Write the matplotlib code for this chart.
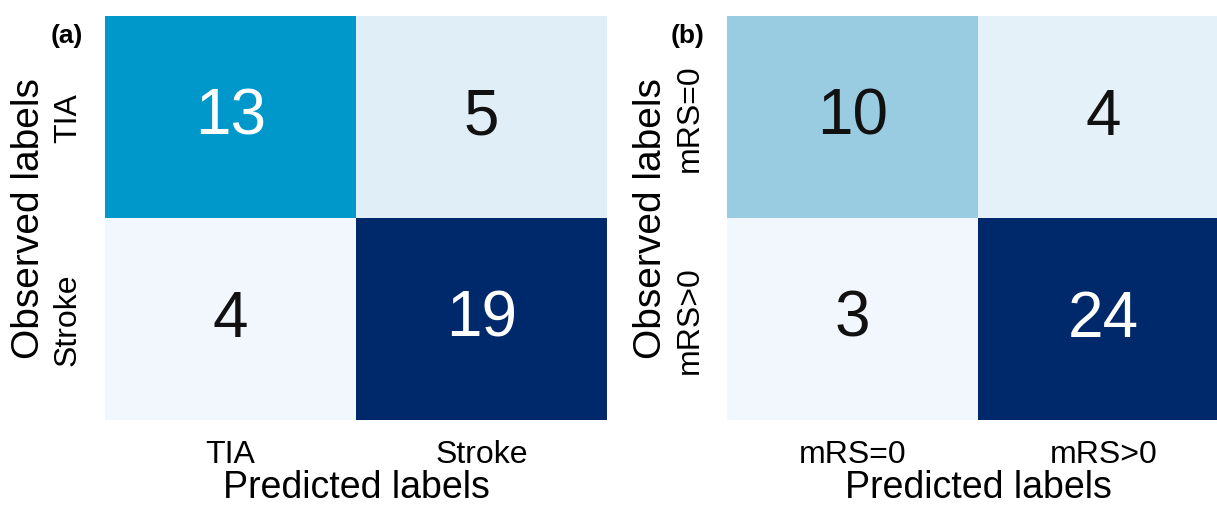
import matplotlib
matplotlib.use('Agg')
import matplotlib.pyplot as plt
import numpy as np
from matplotlib.colors import LinearSegmentedColormap

plt.rcParams['font.family'] = ['Liberation Sans', 'DejaVu Sans']

# Confusion matrices (rows: observed, cols: predicted)
labels_a = ['TIA', 'Stroke']
counts_a = [[13, 5],
            [4, 19]]

labels_b = ['mRS=0', 'mRS>0']
counts_b = [[10, 4],
            [3, 24]]

panel_tags = ['(a)', '(b)']

# light sky -> cyan blue -> navy
cmap = LinearSegmentedColormap.from_list(
    'cm_blues',
    [(0.0, '#f1f7fd'), (0.33, '#9ccde2'), (0.6, '#0098ca'), (1.0, '#00296b')])

W, H = 1217, 506
fig = plt.figure(figsize=(W / 100, H / 100), dpi=100)


def draw_cm(left_px, counts, labels, tag):
    ax = fig.add_axes([left_px / W, 85 / H, 502 / W, 404 / H])
    data = np.array(counts)
    ax.imshow(data, cmap=cmap, vmin=data.min(), vmax=data.max(),
              aspect='auto', interpolation='nearest')
    thresh = data.min() + 0.5 * (data.max() - data.min())
    for i in range(data.shape[0]):
        for j in range(data.shape[1]):
            ax.text(j, i, str(data[i, j]), ha='center', va='center',
                    fontsize=46, color='white' if data[i, j] > thresh else '#111111')
    ax.set_xticks(range(len(labels)))
    ax.set_xticklabels(labels, fontsize=23)
    ax.set_yticks(range(len(labels)))
    ax.set_yticklabels(labels, fontsize=23, rotation=90, va='center')
    ax.tick_params(length=0, pad=14)
    ax.tick_params(axis='y', pad=16)
    ax.set_xlabel('Predicted labels', fontsize=27, labelpad=0)
    ax.set_ylabel('Observed labels', fontsize=28, labelpad=4)
    for s in ax.spines.values():
        s.set_visible(False)
    ax.text(-0.044, 0.983, tag, transform=ax.transAxes, ha='right', va='top',
            fontsize=19, fontweight='bold')
    return ax


draw_cm(105, counts_a, labels_a, panel_tags[0])
draw_cm(727, counts_b, labels_b, panel_tags[1])

fig.savefig('out.png', dpi=100, facecolor='white')
